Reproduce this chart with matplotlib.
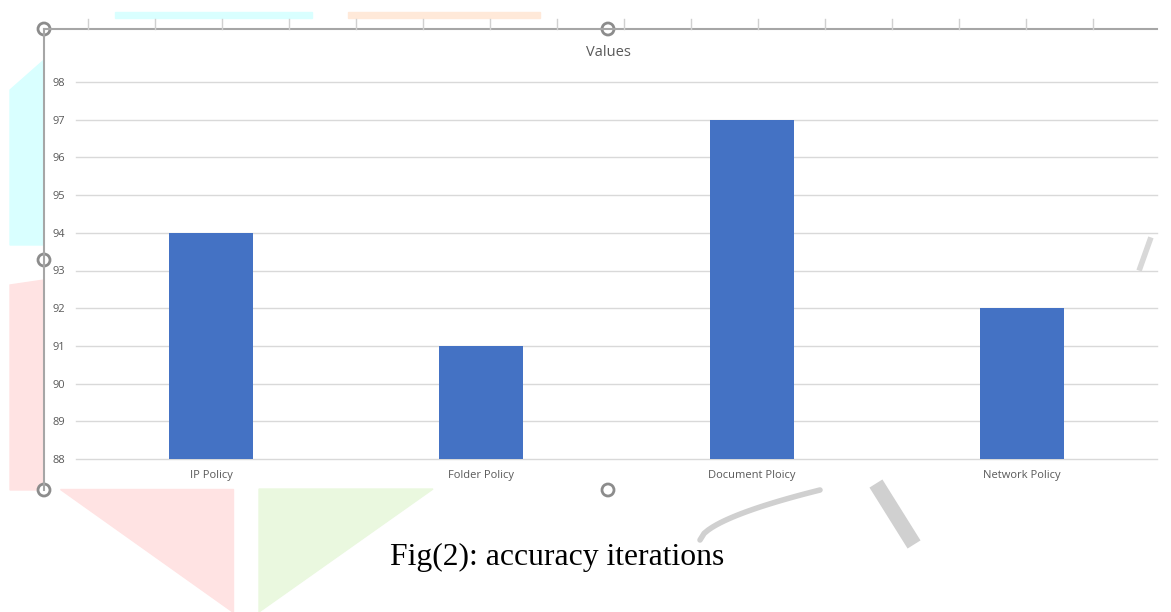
#
# Imports
#
from matplotlib import pyplot as plt
from matplotlib.patches import Polygon, Circle
import numpy as np

#
# Data
#
categories = ['IP Policy', 'Folder Policy', 'Document Ploicy', 'Network Policy']
values = [94, 91, 97, 92]
yticks = [88, 89, 90, 91, 92, 93, 94, 95, 96, 97, 98]

W, H = 1171, 612

#
# Main
#
if __name__ == "__main__":
    fig = plt.figure(figsize=(W / 100, H / 100), dpi=100)
    fig.patch.set_facecolor('white')

    # background layer in figure pixel coords (watermark + chart frame)
    bg = fig.add_axes([0, 0, 1, 1], zorder=-5)
    bg.set_xlim(0, W)
    bg.set_ylim(H, 0)
    bg.axis('off')
    bg.add_patch(Polygon([(10, 90), (44, 60), (44, 245), (10, 245)], color='#d9ffff'))
    bg.add_patch(Polygon([(115, 12), (312, 12), (312, 18), (115, 18)], color='#d9ffff'))
    bg.add_patch(Polygon([(348, 12), (540, 12), (540, 18), (348, 18)], color='#ffe9d9'))
    bg.add_patch(Polygon([(10, 285), (44, 280), (44, 490), (10, 490)], color='#ffe3e3'))
    bg.add_patch(Polygon([(60, 489), (233, 489), (233, 612)], color='#ffe3e3'))
    bg.add_patch(Polygon([(259, 489), (433, 489), (259, 612)], color='#eaf8df'))
    # grey swoosh of the watermark
    t = np.linspace(0, 1, 30)
    bg.plot(700 + 120 * t, 540 - 50 * t ** 0.6, color='#d0d0d0', lw=4,
            solid_capstyle='round')
    bg.plot([880, 910], [490, 538], color='#d0d0d0', lw=11)
    bg.plot([1140, 1150], [268, 240], color='#d8d8d8', lw=4)

    # frame of the chart object
    bg.plot([44, 1157], [29, 29], color='#a6a6a6', lw=1.5)
    bg.plot([44, 44], [29, 490], color='#a6a6a6', lw=1.5)
    for tx in np.arange(88, 1157, 67):
        bg.plot([tx, tx], [19, 29], color='#d0d0d0', lw=1)
    for cx, cy in [(44, 29), (608, 29), (44, 260), (44, 490), (608, 490)]:
        bg.add_patch(Circle((cx, cy), 6, fill=True, fc='white', ec='#8c8c8c', lw=2))

    # plot area
    ax = fig.add_axes([76 / W, 1 - 459 / H, (1157 - 76) / W, (459 - 82) / H])
    x = np.arange(len(categories))
    ax.bar(x, values, width=0.31, color='#4472C4', zorder=3)
    ax.set_xlim(-0.5, len(categories) - 0.5)
    ax.set_ylim(88, 98)
    ax.set_yticks(yticks)
    ax.set_xticks(x)
    ax.set_xticklabels(categories)
    ax.yaxis.grid(True, color='#d9d9d9', lw=1)
    for gl in ax.get_ygridlines():
        gl.set_clip_on(False)
    ax.set_axisbelow(True)
    for s in ax.spines.values():
        s.set_visible(False)
    ax.patch.set_alpha(0)
    ax.tick_params(axis='both', length=0, labelsize=8, labelcolor='#595959')
    ax.tick_params(axis='y', pad=8)
    ax.tick_params(axis='x', pad=8)
    for lbl in ax.get_xticklabels() + ax.get_yticklabels():
        lbl.set_family('Open Sans')

    fig.text(608 / W, 1 - 52 / H, 'Values', ha='center', va='center',
             fontsize=10.5, color='#595959', family='Open Sans')

    fig.text(557 / W, 1 - 557 / H, 'Fig(2): accuracy iterations', ha='center',
             va='center', fontsize=22.8, color='black', family='Liberation Serif')

    fig.savefig('out.png', dpi=100)
